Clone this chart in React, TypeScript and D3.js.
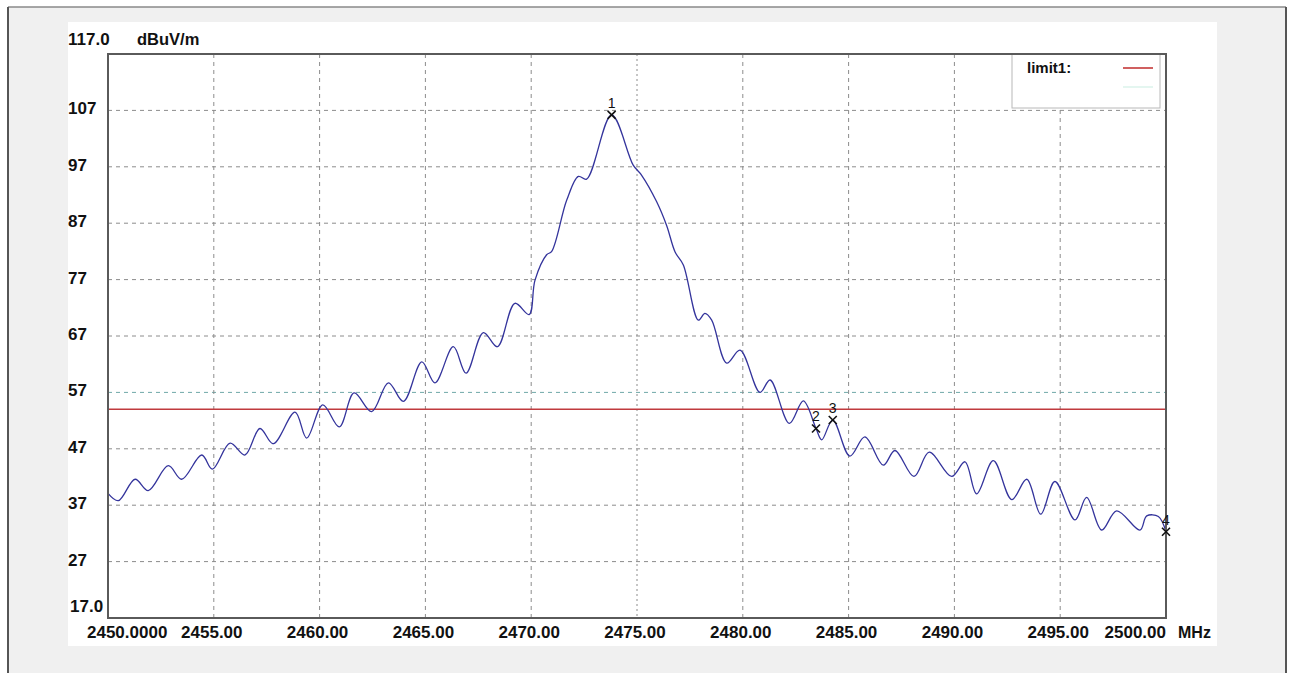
import React from "react";
import * as d3 from "d3";

const freqs = [
  2450.0, 2450.49, 2451.28, 2451.9, 2452.85, 2453.48, 2454.43, 2454.93, 2455.77, 2456.47,
  2457.18, 2457.81, 2458.84, 2459.39, 2460.15, 2460.93, 2461.63, 2462.46, 2463.25, 2463.96,
  2464.83, 2465.45, 2466.32, 2466.92, 2467.74, 2468.4, 2469.23, 2469.9, 2470.18, 2470.73,
  2470.97, 2471.68, 2472.23, 2472.62, 2473.8, 2474.82, 2475.22, 2475.93, 2476.4, 2476.8,
  2477.19, 2477.9, 2478.21, 2478.53, 2479.24, 2479.87, 2480.81, 2481.29, 2482.2, 2482.86,
  2483.46, 2483.73, 2484.25, 2485.06, 2485.77, 2486.64, 2487.19, 2488.09, 2488.81, 2489.87,
  2490.5, 2491.05, 2491.84, 2492.71, 2493.42, 2494.08, 2494.75, 2495.7, 2496.25, 2496.96,
  2497.67, 2498.77, 2499.09, 2499.64, 2500.0,
];
const levels = [
  39.1, 37.8, 41.6, 39.6, 44.0, 41.6, 45.9, 43.4, 48.0, 45.9,
  50.6, 47.9, 53.5, 48.9, 54.8, 50.9, 56.9, 53.6, 58.7, 55.4,
  62.4, 58.7, 65.1, 60.4, 67.6, 65.1, 72.8, 70.8, 76.9, 81.4,
  82.0, 91.1, 95.3, 94.8, 106.2, 97.3, 95.5, 90.8, 86.6, 81.9,
  79.6, 69.8, 71.0, 69.8, 62.2, 64.5, 57.0, 59.2, 51.5, 55.5,
  50.6, 48.6, 52.1, 45.7, 49.1, 44.1, 46.7, 42.1, 46.4, 42.1,
  44.7, 39.0, 44.9, 38.0, 41.6, 35.4, 41.2, 34.4, 38.4, 32.6,
  36.0, 32.6, 35.1, 35.0, 32.3,
];

const markerLabels = ["1", "2", "3", "4"];
const markerFreqs = [2473.8, 2483.46, 2484.25, 2500.0];
const markerLevels = [106.2, 50.6, 52.1, 32.3];

const yTicks = [107, 97, 87, 77, 67, 57, 47, 37, 27];
const xTicks = [2455, 2460, 2465, 2470, 2475, 2480, 2485, 2490, 2495];
const xTickLabels = ["2455.00", "2460.00", "2465.00", "2470.00", "2475.00", "2480.00", "2485.00", "2490.00", "2495.00"];
const limitValue = 54;
const legendLabel = "limit1:";

const W = 1291;
const H = 673;
const L = 108, R = 1166, T = 54, B = 618;
const font = "'Liberation Sans', Arial, sans-serif";

export default function App() {
  const x = d3.scaleLinear().domain([2450, 2500]).range([L, R]);
  const y = d3.scaleLinear().domain([17, 117]).range([B, T]);
  const pts: [number, number][] = freqs.map((f, i) => [f, levels[i]]);
  const line = d3
    .line<[number, number]>()
    .x((d) => x(d[0]))
    .y((d) => y(d[1]))
    .curve(d3.curveCatmullRom.alpha(0.5));

  return (
    <svg width={W} height={H} style={{ position: "absolute", left: 0, top: 0, background: "#fff" }}>
      {/* outer frame */}
      <rect x={8} y={7} width={1278} height={H} fill="#f0f0f0" />
      <line x1={8} y1={7} x2={1286} y2={7} stroke="#8a8a8a" strokeWidth={1.5} />
      <line x1={8} y1={7} x2={8} y2={H} stroke="#555" strokeWidth={2} />
      <line x1={1286} y1={7} x2={1286} y2={H} stroke="#555" strokeWidth={2} />
      <rect x={68} y={22} width={1149} height={624} fill="#fff" />

      {/* grid */}
      {yTicks.map((t) => (
        <line
          key={"gy" + t}
          x1={L}
          x2={R}
          y1={y(t)}
          y2={y(t)}
          stroke={t === 57 ? "#6fa8a8" : "#8c8c8c"}
          strokeWidth={1}
          strokeDasharray="4 4"
        />
      ))}
      {xTicks.map((t) => (
        <line
          key={"gx" + t}
          x1={x(t)}
          x2={x(t)}
          y1={T}
          y2={B}
          stroke="#8c8c8c"
          strokeWidth={1}
          strokeDasharray={t === 2475 ? "2 3" : "4 4"}
        />
      ))}

      {/* legend */}
      <rect x={1012} y={T} width={148} height={54} fill="#fff" stroke="#b8b8b8" strokeWidth={1} />
      <text x={1027} y={73} fontFamily={font} fontWeight="bold" fontSize={15} fill="#111">
        {legendLabel}
      </text>
      <line x1={1123} x2={1153} y1={68} y2={68} stroke="#d06060" strokeWidth={2} />
      <line x1={1123} x2={1153} y1={87} y2={87} stroke="#e4f6f0" strokeWidth={2} />

      {/* limit line */}
      <line x1={L} x2={R} y1={y(limitValue)} y2={y(limitValue)} stroke="#c03a3e" strokeWidth={1.5} />

      {/* trace */}
      <path d={line(pts) || ""} fill="none" stroke="#34349c" strokeWidth={1.3} />

      {/* frame */}
      <rect x={L} y={T} width={R - L} height={B - T} fill="none" stroke="#5a5a5a" strokeWidth={2} />

      {/* markers */}
      {markerLabels.map((m, i) => {
        const cx = x(markerFreqs[i]);
        const cy = y(markerLevels[i]);
        return (
          <g key={"m" + m}>
            <line x1={cx - 4} y1={cy - 4} x2={cx + 4} y2={cy + 4} stroke="#111" strokeWidth={1.6} />
            <line x1={cx - 4} y1={cy + 4} x2={cx + 4} y2={cy - 4} stroke="#111" strokeWidth={1.6} />
            <text x={cx} y={cy - 7} textAnchor="middle" fontFamily={font} fontSize={14} fill="#111">
              {m}
            </text>
          </g>
        );
      })}

      {/* y labels */}
      <text x={68} y={45} fontFamily={font} fontWeight="bold" fontSize={17} fill="#111">117.0</text>
      <text x={137} y={45} fontFamily={font} fontWeight="bold" fontSize={16.5} fill="#111">dBuV/m</text>
      {yTicks.map((t) => (
        <text key={"ly" + t} x={68} y={y(t) + 4} fontFamily={font} fontWeight="bold" fontSize={17} fill="#111">
          {t}
        </text>
      ))}
      <text x={70} y={612} fontFamily={font} fontWeight="bold" fontSize={17} fill="#111">17.0</text>

      {/* x labels */}
      <text x={87} y={638} fontFamily={font} fontWeight="bold" fontSize={17} fill="#111">2450.0000</text>
      {xTicks.map((t, i) => (
        <text key={"lx" + t} x={x(t) - 2} y={638} textAnchor="middle" fontFamily={font} fontWeight="bold" fontSize={17} fill="#111">
          {xTickLabels[i]}
        </text>
      ))}
      <text x={R} y={638} textAnchor="end" fontFamily={font} fontWeight="bold" fontSize={17} fill="#111">2500.00</text>
      <text x={1178} y={638} fontFamily={font} fontWeight="bold" fontSize={16} fill="#111">MHz</text>
    </svg>
  );
}
